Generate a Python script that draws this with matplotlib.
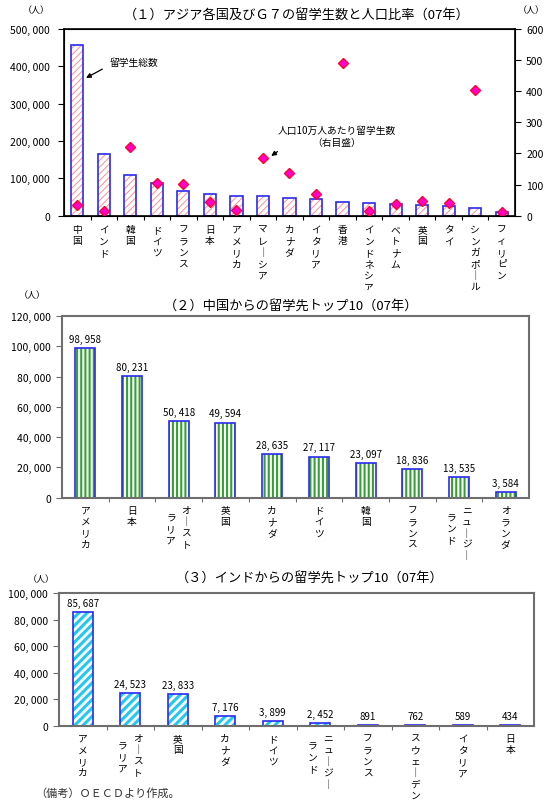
import numpy as np
import matplotlib
matplotlib.use("Agg")
import matplotlib.pyplot as plt
from matplotlib.ticker import FuncFormatter
from matplotlib.transforms import Bbox, TransformedBbox

plt.rcParams['font.family'] = ['Noto Sans CJK JP', 'DejaVu Sans']

W, H = 551, 804

# (1) アジア各国及びG7
asia_names = ["中国", "インド", "韓国", "ドイツ", "フランス", "日本", "アメリカ", "マレーシア",
              "カナダ", "イタリア", "香港", "インドネシア", "ベトナム", "英国", "タイ",
              "シンガポール", "フィリピン"]
asia_students = [457000, 164000, 109000, 88000, 65000, 57000, 53000, 52000,
                 47000, 44000, 37000, 35000, 31000, 28000, 26000, 20000, 10000]
asia_per100k = [34, 15, 222, 106, 102, 45, 19, 185, 137, 71, 491, 15, 37, 46, 40, 404, 12]

# (2) 中国からの留学先  ("\n" = 次の列)
china_dest = ["アメリカ", "日本", "オースト\nラリア", "英国", "カナダ", "ドイツ", "韓国",
              "フランス", "ニュージー\nランド", "オランダ"]
china_vals = [98958, 80231, 50418, 49594, 28635, 27117, 23097, 18836, 13535, 3584]

# (3) インドからの留学先
india_dest = ["アメリカ", "オースト\nラリア", "英国", "カナダ", "ドイツ", "ニュージー\nランド",
              "フランス", "スウェーデン", "イタリア", "日本"]
india_vals = [85687, 24523, 23833, 7176, 3899, 2452, 891, 762, 589, 434]


def fx(x):
    return x / W


def fy(y):
    return 1 - y / H


def comma(v, _=None):
    return f"{int(v):,}".replace(",", ", ")


def hatched_bars(ax, vals, width, hatch, hcolor, hlw, edge, elw=1.2):
    x = np.arange(len(vals))
    with plt.rc_context({'hatch.linewidth': hlw}):
        bars = ax.bar(x, vals, width, color='white', edgecolor=hcolor, linewidth=0, hatch=hatch)
        for b in bars:
            try:
                b.set_hatch_linewidth(hlw)
            except AttributeError:
                pass
    ax.bar(x, vals, width, fill=False, edgecolor=edge, linewidth=elw)


def vlabels(ax, names, dy, fs=7, ls=1.18, clip=None):
    trans = ax.get_xaxis_transform()
    for i, name in enumerate(names):
        cols = name.split("\n")
        if len(cols) == 1:
            offs = [(0, -dy)]
        else:
            offs = [(5.5, -dy), (-5.5, -dy - 5)]
        for col, (ox, oy) in zip(cols, offs):
            # 縦書きの長音は縦棒で
            txt = "\n".join(col.replace("ー", "｜"))
            t = ax.annotate(txt, xy=(i, 0), xycoords=trans, xytext=(ox, oy),
                            textcoords='offset points', ha='center', va='top',
                            fontsize=fs, linespacing=ls, annotation_clip=False)
            if clip is not None:
                t.set_clip_box(clip)
                t.set_clip_on(True)


def style_axes(ax, n, color, lw, pad):
    for s in ax.spines.values():
        s.set_color(color)
        s.set_linewidth(lw)
    ax.set_xlim(-0.5, n - 0.5)
    ax.set_xticks(np.arange(0.5, n - 1, 1))
    ax.set_xticklabels([])
    ax.tick_params(axis='x', length=3, direction='out', color=color)
    ax.tick_params(axis='y', length=4, direction='out', labelsize=7.5, pad=pad, color=color)
    ax.yaxis.set_major_formatter(FuncFormatter(comma))


fig = plt.figure(figsize=(W / 100, H / 100), dpi=100)

# ---------- (1) ----------
ax1 = fig.add_axes([fx(64), fy(216.7), fx(515) - fx(64), fy(30) - fy(216.7)])
n1 = len(asia_names)
hatched_bars(ax1, asia_students, 0.46, '/////', '#ff9090', 0.7, '#2a2aee')
style_axes(ax1, n1, 'black', 1.2, 6)
ax1.set_ylim(0, 500000)
ax1.set_yticks(np.arange(0, 500001, 100000))

ax1b = ax1.twinx()
ax1b.set_ylim(0, 600)
ax1b.set_yticks(np.arange(0, 601, 100))
ax1b.plot(np.arange(n1), asia_per100k, 'D', ms=5, mfc='#ff00cc', mec='#ff0033', mew=1, ls='none')
ax1b.tick_params(axis='y', length=4, direction='out', labelsize=7.5, pad=4)

clip1 = TransformedBbox(Bbox.from_extents(0, fy(291), 1, fy(216)), fig.transFigure)
vlabels(ax1, asia_names, 6, clip=clip1)

ax1.annotate("留学生総数", xy=(0.33, 369000), xytext=(fx(110), fy(63)), textcoords='figure fraction',
             fontsize=7, ha='left', va='center',
             arrowprops=dict(arrowstyle='-|>', color='black', lw=0.9, mutation_scale=7,
                             shrinkA=4, shrinkB=0, relpos=(0.0, 0.2)))
ax1b.annotate("人口10万人あたり留学生数\n（右目盛）", xy=(7.31, 192), xytext=(fx(337), fy(137)),
              textcoords='figure fraction', fontsize=7, ha='center', va='center', linespacing=1.3,
              arrowprops=dict(arrowstyle='-|>', color='black', lw=0.9, mutation_scale=7,
                              shrinkA=2, shrinkB=0, relpos=(0.05, 0.0)))

fig.text(fx(297), fy(15), "（１）アジア各国及びＧ７の留学生数と人口比率（07年）",
         ha='center', va='center', fontsize=9.5)
fig.text(fx(36), fy(11), "（人）", ha='center', va='center', fontsize=6.5)
fig.text(fx(531), fy(11), "（人）", ha='center', va='center', fontsize=6.5)

# ---------- (2) ----------
ax2 = fig.add_axes([fx(62), fy(498.7), fx(529) - fx(62), fy(317) - fy(498.7)])
n2 = len(china_dest)
hatched_bars(ax2, china_vals, 0.43, '||||', '#33a033', 1.5, '#2a2aee')
style_axes(ax2, n2, '#6e6e6e', 1.5, 4)
ax2.set_ylim(0, 120000)
ax2.set_yticks(np.arange(0, 120001, 20000))
for i, v in enumerate(china_vals):
    ax2.annotate(comma(v), xy=(i, v), xytext=(0, 3), textcoords='offset points',
                 ha='center', va='bottom', fontsize=7)
vlabels(ax2, china_dest, 5)
fig.text(fx(291), fy(306), "（２）中国からの留学先トップ10（07年）", ha='center', va='center', fontsize=9.5)
fig.text(fx(32), fy(296), "（人）", ha='center', va='center', fontsize=6.5)

# ---------- (3) ----------
ax3 = fig.add_axes([fx(59), fy(727), fx(534) - fx(59), fy(594) - fy(727)])
n3 = len(india_dest)
hatched_bars(ax3, india_vals, 0.42, '////', '#22c8ee', 2.2, '#2a2aee')
style_axes(ax3, n3, '#6e6e6e', 1.5, 4)
ax3.set_ylim(0, 100000)
ax3.set_yticks(np.arange(0, 100001, 20000))
for i, v in enumerate(india_vals):
    ax3.annotate(comma(v), xy=(i, v), xytext=(0, 3), textcoords='offset points',
                 ha='center', va='bottom', fontsize=7)
vlabels(ax3, india_dest, 5)
fig.text(fx(310), fy(578), "（３）インドからの留学先トップ10（07年）", ha='center', va='center', fontsize=9.5)
fig.text(fx(41), fy(580), "（人）", ha='center', va='center', fontsize=6.5)

fig.text(fx(35), fy(793), "（備考）ＯＥＣＤより作成。", ha='left', va='center', fontsize=8, color='#333333')

fig.savefig("out.png", dpi=100)
